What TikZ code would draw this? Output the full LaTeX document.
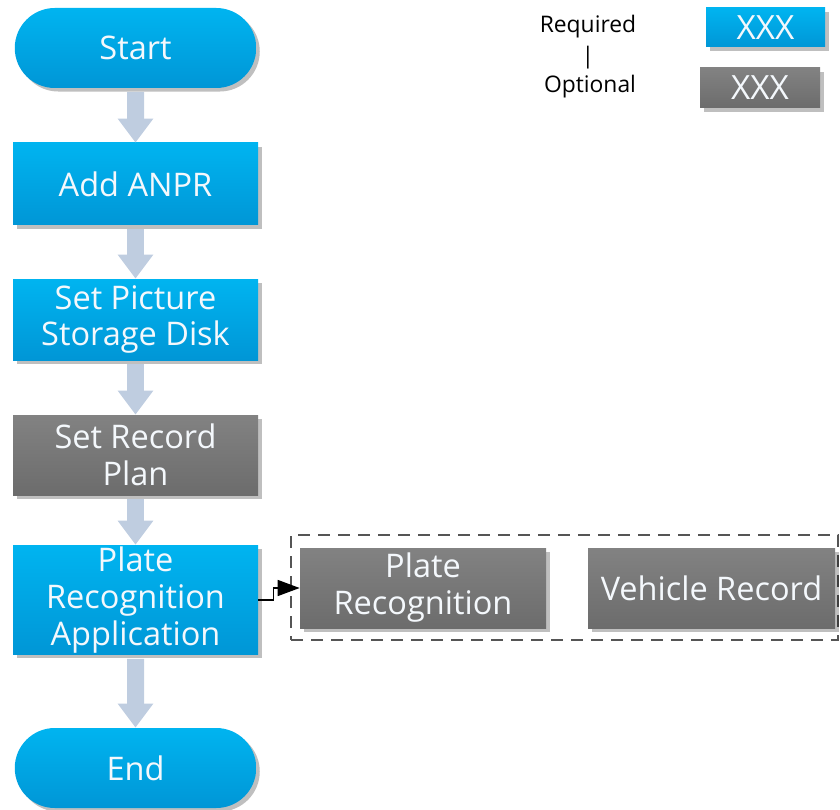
\documentclass[tikz,border=0pt]{standalone}
\usepackage{fontspec}
\setmainfont{Open Sans}
\usepackage{tikz}
\usetikzlibrary{arrows.meta,shadows,shapes.misc}
\definecolor{reqtop}{HTML}{00B4F0}
\definecolor{reqbot}{HTML}{0096D6}
\definecolor{opttop}{HTML}{828282}
\definecolor{optbot}{HTML}{6C6C6C}
\definecolor{flowgray}{HTML}{BFCDE0}
\definecolor{boxtext}{HTML}{F4F8FC}
\definecolor{dashgray}{HTML}{555555}

\tikzset{
  stepreq/.style={rectangle,top color=reqtop,bottom color=reqbot,text=boxtext,
    minimum width=4.9cm,align=center,font=\fontsize{18.5}{21}\selectfont,inner sep=1pt,
    drop shadow={shadow xshift=2pt,shadow yshift=-2pt,opacity=0.25,fill=black}},
  stepopt/.style={stepreq,top color=opttop,bottom color=optbot},
  terminal/.style={stepreq,rounded rectangle},
  flow/.style={flowgray,line width=0.34cm,-{Triangle[width=0.68cm,length=0.48cm]},shorten <=2pt},
  legendtext/.style={font=\fontsize{13}{15}\selectfont,text=black},
  legendbox/.style={font=\fontsize{19}{21}\selectfont}
}

\begin{document}
\begin{tikzpicture}
    \useasboundingbox (0,0) rectangle (16.8,-16.2);
    % main flow
    \node[terminal,minimum height=1.6cm] (start) at (2.71,-0.96) {Start};
    \node[stepreq,minimum height=1.64cm] (anpr) at (2.71,-3.68) {Add ANPR};
    \node[stepreq,minimum height=1.62cm] (disk) at (2.71,-6.39) {Set Picture\\Storage Disk};
    \node[stepopt,minimum height=1.6cm] (plan) at (2.71,-9.10) {Set Record\\Plan};
    \node[stepreq,minimum height=2.08cm] (app) at (2.71,-12.0) {Plate\\Recognition\\Application};
    \node[terminal,minimum height=1.6cm] (end) at (2.71,-15.36) {End};
    \draw[flow] (start) -- (anpr);
    \draw[flow] (anpr) -- (disk);
    \draw[flow] (disk) -- (plan);
    \draw[flow] (plan) -- (app);
    \draw[flow] (app) -- (end);
    % optional applications
    \node[draw=dashgray,line width=0.04cm,dash pattern=on 0.24cm off 0.16cm,
      minimum width=10.94cm,minimum height=2.1cm] (apps) at (11.29,-11.75) {};
    \node[stepopt,minimum width=4.92cm,minimum height=1.6cm] (plate) at (8.46,-11.76) {Plate\\Recognition};
    \node[stepopt,minimum width=4.94cm,minimum height=1.6cm] (vehicle) at (14.23,-11.76) {Vehicle Record};
    \draw[black,line width=0.03cm,-{Triangle[width=0.32cm,length=0.44cm]}] (app.east) -- ++(0.3,0) |- (plate.west);
    % legend
    \node[legendtext] (req) at (11.76,-0.54) {Required};
    \node[legendtext] (bar) at (11.76,-1.16) {|};
    \node[legendtext] (opt) at (11.8,-1.74) {Optional};
    \node[stepreq,legendbox,minimum width=2.38cm,minimum height=0.78cm] (reqbox) at (15.31,-0.55) {XXX};
    \node[stepopt,legendbox,minimum width=2.4cm,minimum height=0.8cm] (optbox) at (15.2,-1.76) {XXX};
  \end{tikzpicture}
\end{document}
